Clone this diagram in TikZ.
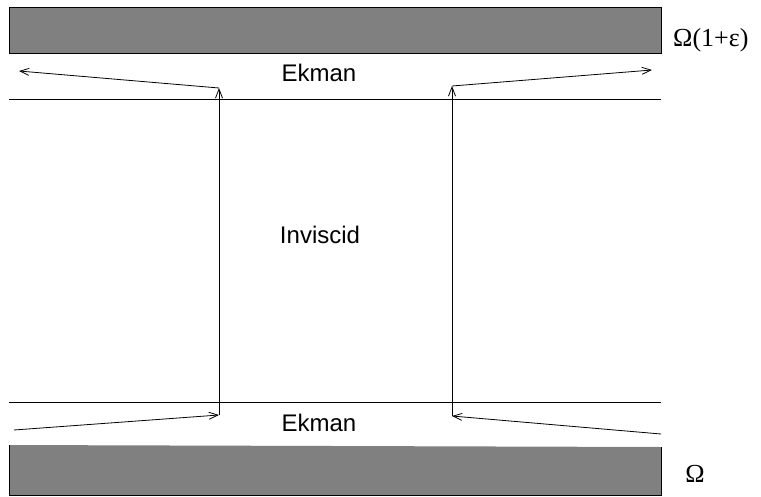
\documentclass[tikz,border=0pt]{standalone}
\usepackage{fontspec}
\setmainfont{Liberation Serif}
\newfontfamily\labelsans{Liberation Sans}
\usetikzlibrary{arrows.meta}
\definecolor{plategrey}{HTML}{808080}
\begin{document}
\begin{tikzpicture}[x=1pt,y=-1pt,
  flow/.style={line width=0.8pt,-{Straight Barb[length=9pt,width=7pt,line width=0.8pt]}},
  layerline/.style={line width=0.8pt},
  region/.style={font=\labelsans\fontsize{24}{28}\selectfont,inner sep=0pt},
  speed/.style={font=\fontsize{26}{30}\selectfont,inner sep=0pt},
  platefill/.style={fill=plategrey}]
\useasboundingbox (0,0) rectangle (761,496);
% top plate
\draw[platefill,line width=0.9pt] (9,7) rectangle (661,53);
% bottom plate (slightly slanted top)
\fill[plategrey] (9,445) -- (661,447) -- (661,495) -- (9,495) -- cycle;
\draw[line width=0.9pt] (9,445) -- (9,495) -- (661,495) -- (661,447);
% layer boundaries
\draw[layerline] (9,99) -- (661,99);
\draw[layerline] (9,402) -- (661,402);
% coordinates
\coordinate (a1) at (19,71);
\coordinate (c1) at (219,88);
\coordinate (c2) at (219,415);
\coordinate (b1) at (14,430);
\coordinate (a2) at (652,70);
\coordinate (c3) at (452,86);
\coordinate (c4) at (452,416);
\coordinate (b2) at (661,434);
% flows
\draw[flow] (b1) -- (c2);
\draw[flow] (c2) -- (c1);
\draw[flow] (c1) -- (a1);
\draw[flow] (b2) -- (c4);
\draw[flow] (c4) -- (c3);
\draw[flow] (c3) -- (a2);
% labels
\node[region] (ek1) at (319,73) {Ekman};
\node[region] (ek2) at (319,423) {Ekman};
\node[region] (inv) at (320,235) {Inviscid};
\node[speed,anchor=west] (om1) at (673,40) {Ω(1+ε)};
\node[speed] (om2) at (695,474) {Ω};
\end{tikzpicture}
\end{document}
